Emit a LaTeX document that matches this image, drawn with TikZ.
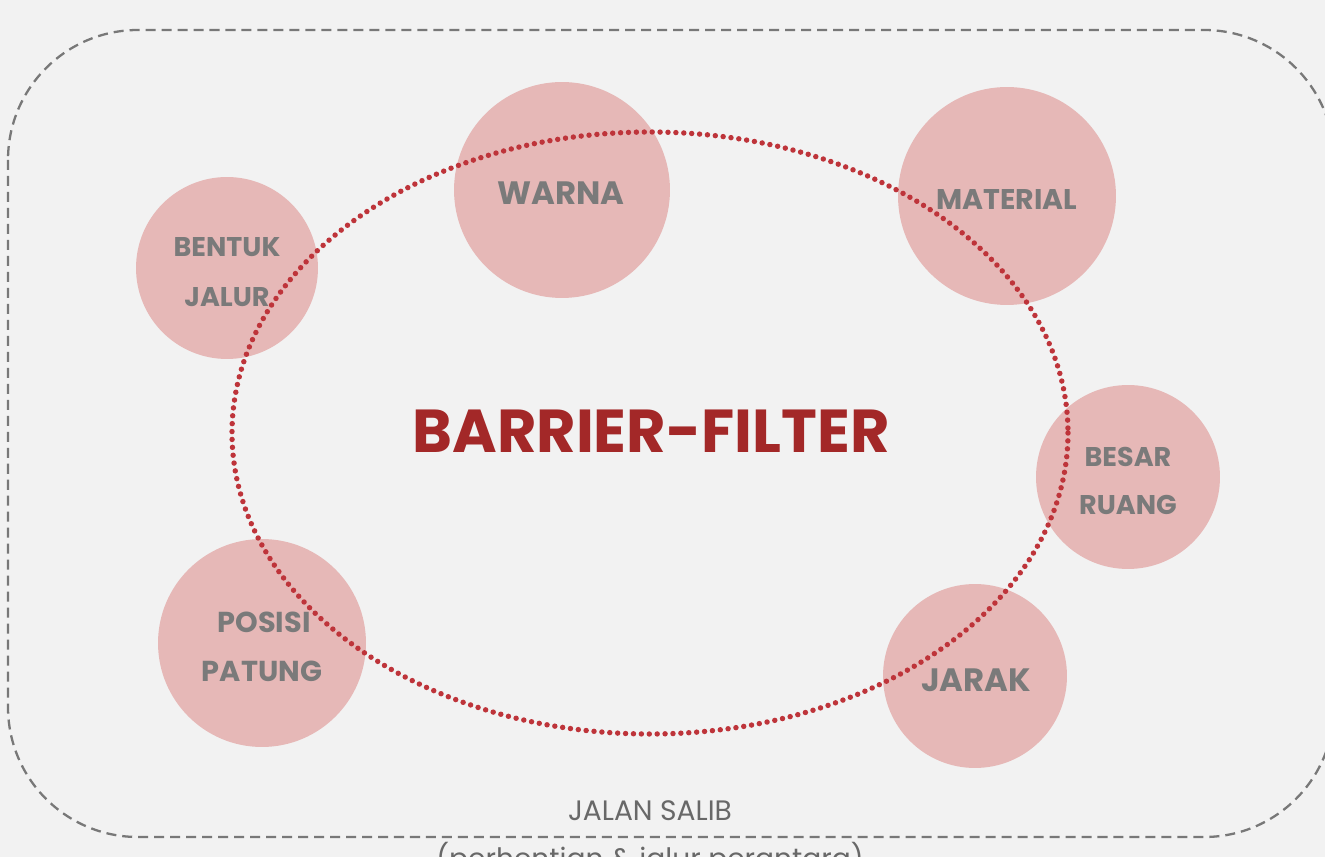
\documentclass[tikz,border=0pt]{standalone}
\usepackage{fontspec}
\setmainfont{Poppins}
\definecolor{bg}{RGB}{242,242,242}
\definecolor{pinkfill}{RGB}{230,184,183}
\definecolor{txtgray}{RGB}{122,122,122}
\definecolor{dotred}{RGB}{190,52,58}
\definecolor{titlered}{RGB}{163,40,40}
\definecolor{bordergray}{RGB}{120,120,120}
\begin{document}
\begin{tikzpicture}[x=0.02cm,y=-0.02cm,
  bubble/.style={circle,fill=pinkfill,draw=none,inner sep=0pt},
  lbl/.style={text=txtgray,anchor=base,inner sep=0pt,font=\bfseries\fontsize{#1}{#1}\selectfont},
  border/.style={draw=bordergray,line width=1.3pt,dash pattern=on 5.7pt off 3.4pt},
  dotline/.style={draw=dotred,line width=3.1pt,line cap=round,dash pattern=on 0pt off 4.5pt}]
\useasboundingbox (0,0) rectangle (1325,857);
\clip (0,0) rectangle (1325,857);
\fill[bg] (0,0) rectangle (1325,857);
% border
\draw[border,rounded corners=2.6cm] (8,30) rectangle (1334,837);
% bubbles
\node[bubble,minimum size=4.32cm] (warna) at (562,190) {};
\node[bubble,minimum size=4.36cm] (material) at (1007,196) {};
\node[bubble,minimum size=3.64cm] (bentuk) at (227,268) {};
\node[bubble,minimum size=3.68cm] (besar) at (1128,477) {};
\node[bubble,minimum size=4.16cm] (posisi) at (262,643) {};
\node[bubble,minimum size=3.68cm] (jarak) at (975,676) {};
% ellipse
\draw[dotline] (650,433) ellipse [x radius=418, y radius=301];
% labels
\node[lbl=18.4] (tw) at (561,205) {WARNA};
\node[lbl=16.2] (tm) at (1007,210) {MATERIAL};
\node[lbl=15.4] (tb1) at (227,257) {BENTUK};
\node[lbl=15.4] (tb2) at (227,307) {JALUR};
\node[lbl=15.4] (tr1) at (1128,467) {BESAR};
\node[lbl=15.4] (tr2) at (1128,515) {RUANG};
\node[lbl=16.4] (tp1) at (264,633) {POSISI};
\node[lbl=16.4] (tp2) at (262,682) {PATUNG};
\node[lbl=18.4] (tj) at (976,691) {JARAK};
\node[anchor=base,inner sep=0pt,text=titlered,font=\bfseries\fontsize{34.5}{34.5}\selectfont] (title) at (651,453) {BARRIER-FILTER};
\node[anchor=base,inner sep=0pt,text=txtgray!85!black,font=\fontsize{16}{16}\selectfont] (road) at (650,820) {JALAN SALIB};
\node[anchor=base,inner sep=0pt,text=txtgray!85!black,font=\fontsize{16}{16}\selectfont] (road2) at (650,868) {(perhentian \& jalur perantara)};
\end{tikzpicture}
\end{document}
